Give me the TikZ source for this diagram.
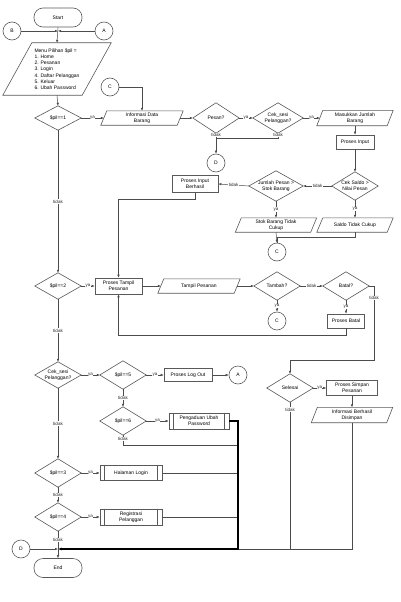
\documentclass[tikz,border=0pt]{standalone}
\usepackage{fontspec}
\setmainfont{Liberation Sans}
\usetikzlibrary{arrows.meta,calc}
\tikzset{
 ln/.style={draw=black!70, line width=0.5pt},
 arr/.style={ln, -{Latex[length=3pt,width=2.5pt]}},
 thk/.style={draw=black, line width=1.1pt, -{Latex[length=3.5pt,width=3pt]}},
 shp/.style={draw=black!65, line width=0.6pt},
 lbl/.style={fill=white, inner sep=0.4pt, font=\fontsize{4.5}{5}\selectfont, text=black!85},
 txt/.style={font=\fontsize{5}{6.2}\selectfont, align=center, inner sep=0},
 box/.style={txt, shp, rectangle},
 circ/.style={txt, shp, circle, minimum size=18pt},
 term/.style={txt, shp, rectangle, rounded corners=9pt},
}
\newcommand\FDia[6]{\node[txt, minimum width=#4pt, minimum height=#5pt] (#1) at (#2,#3) {#6};
 \draw[shp] (#1.north) -- (#1.east) -- (#1.south) -- (#1.west) -- cycle;}
\newcommand\FPara[7]{\node[txt, minimum width=#4pt, minimum height=#5pt] (#1) at (#2,#3) {#7};
 \draw[shp] ([xshift=#6pt]#1.north west) -- ([xshift=#6pt]#1.north east) -- ([xshift=-#6pt]#1.south east) -- ([xshift=-#6pt]#1.south west) -- cycle;}
\newcommand\FPre[6]{\node[box, minimum width=#4pt, minimum height=#5pt] (#1) at (#2,#3) {#6};
 \draw[shp] ([xshift=5pt]#1.north west) -- ([xshift=5pt]#1.south west) ([xshift=-5pt]#1.north east) -- ([xshift=-5pt]#1.south east);}
\begin{document}
\begin{tikzpicture}[x=1pt,y=-1pt]
\fill[white] (0,0) rectangle (400,602);
\useasboundingbox (0,0) rectangle (400,602);
% nodes
\node[term, minimum width=48pt, minimum height=19pt] (start) at (58,17.5) {Start};
\node[circ] (B) at (12,31) {B};
\node[circ] (A1) at (104,31) {A};
\coordinate (j1) at (58,31);
\node[txt, align=left, minimum width=79pt, minimum height=52pt] (menu) at (57,69) {Menu Pilihan \$pil =\\1. Home\\2. Pesanan\\3. Login\\4. Daftar Pelanggan\\5. Keluar\\6. Ubah Password};
\draw[shp] ([xshift=14.5pt]menu.north west) -- ([xshift=14.5pt]menu.north east) -- ([xshift=-14.5pt]menu.south east) -- ([xshift=-14.5pt]menu.south west) -- cycle;
\FDia{p1}{58}{118}{46}{24}{\$pil==1}
\node[circ] (C1) at (110,87) {C};
\FPara{info}{142}{118}{76}{14}{3}{Informasi Data\\Barang}
\FDia{pesan}{216}{118}{46}{30}{Pesan?}
\FDia{cek1}{278}{118}{50}{30}{Cek\_sesi\\Pelanggan?}
\FPara{masuk}{355}{118}{70}{15}{3}{Masukkan Jumlah\\Barang}
\node[box, minimum width=38pt, minimum height=14pt] (pinput) at (355,142) {Proses Input};
\FDia{saldo}{355}{186}{46}{28}{Cek Saldo >\\Nilai Pesan}
\FDia{jumlah}{276}{186}{54}{30}{Jumlah Pesan >\\Stok Barang}
\node[box, minimum width=46pt, minimum height=17pt] (berhasil) at (195,184) {Proses Input\\Berhasil};
\node[circ] (D1) at (216,163) {D};
\FPara{stok}{276}{225}{75}{14}{3}{Stok Barang Tidak\\Cukup}
\FPara{saldotc}{355}{225}{70}{14}{3}{Saldo Tidak Cukup}
\node[circ] (C2) at (277,252) {C};
\FDia{p2}{58}{286}{46}{26}{\$pil==2}
\node[box, minimum width=47pt, minimum height=16pt] (ptampil) at (118.5,286) {Proses Tampil\\Pesanan};
\FPara{tampilp}{199}{286}{76}{14}{3}{Tampil Pesanan}
\FDia{tambah}{277}{286}{46}{28}{Tambah?}
\FDia{batal}{346}{286}{46}{28}{Batal?}
\node[circ] (C3) at (277,321) {C};
\node[box, minimum width=37pt, minimum height=14pt] (pbatal) at (346,321) {Proses Batal};
\FDia{selesai}{290}{388}{46}{28}{Selesai}
\node[box, minimum width=51pt, minimum height=15pt] (simpan) at (352,388) {Proses Simpan\\Pesanan};
\FPara{infob}{352}{415}{75}{15}{3}{Informasi Berhasil\\Disimpan}
\FDia{cek2}{58}{375}{46}{26}{Cek\_sesi\\Pelanggan?}
\FDia{p5}{123}{375}{46}{28}{\$pil==5}
\node[box, minimum width=48pt, minimum height=13pt] (logout) at (188,375) {Proses Log Out};
\node[circ] (A2) at (238,375) {A};
\FDia{p6}{123}{421}{46}{28}{\$pil==6}
\FPre{pengaduan}{199}{421}{60}{16}{Pengaduan Ubah\\Password}
\FDia{p3}{58}{473}{46}{28}{\$pil==3}
\FPre{login}{131}{473}{62}{15}{Halaman Login}
\FDia{p4}{58}{517}{46}{28}{\$pil==4}
\FPre{reg}{131}{517}{62}{16}{Registrasi\\Pelanggan}
\node[circ] (D2) at (21,549) {D};
\coordinate (j2) at (58,549);
\coordinate (cr) at (238,549);
\node[term, minimum width=48pt, minimum height=19pt] (stop) at (58,568) {End};
% connectors
\draw[arr] (start.south) -- (menu.north);
\draw[arr] (B) -- (j1);
\draw[arr] (A1) -- (j1);
\draw[arr] (menu.south) -- (p1.north);
\draw[arr] (p1.east) -- node[lbl]{ya} (info.west);
\draw[arr] (C1.east) -| (info.north);
\draw[arr] (info.east) -- (pesan.west);
\draw[arr] (pesan.east) -- node[lbl]{ya} (cek1.west);
\draw[arr] (cek1.east) -- node[lbl]{ya} (masuk.west);
\draw[arr] (pesan.south) -- node[lbl, pos=0.1]{tidak} (D1.north);
\coordinate (jd) at (216,138);
\draw[ln] (cek1.south) |- node[lbl, pos=0.2]{tidak} (jd);
\draw[arr] (masuk.south) -- (pinput.north);
\draw[arr] (pinput.south) -- (saldo.north);
\draw[arr] (saldo.west) -- node[lbl]{tidak} (jumlah.east);
\draw[arr] (jumlah.west) -- node[lbl]{tidak} (berhasil.east);
\draw[arr] (jumlah.south) -- node[lbl]{ya} (stok.north);
\draw[arr] (saldo.south) -- node[lbl]{ya} (saldotc.north);
\draw[arr] (stok.south) -- (C2.north);
\draw[ln] (saldotc.south) -- ++(0,5) -| (C2.north);
\draw[arr] (berhasil.south) -- ++(0,6) -| (ptampil.north);
\draw[arr] (p1.south) -- node[lbl]{tidak} (p2.north);
\draw[arr] (p2.east) -- node[lbl]{ya} (ptampil.west);
\draw[arr] (ptampil.east) -- (tampilp.west);
\draw[arr] (tampilp.east) -- (tambah.west);
\draw[arr] (tambah.east) -- node[lbl]{tidak} (batal.west);
\draw[arr] (tambah.south) -- node[lbl]{ya} (C3.north);
\draw[arr] (batal.south) -- node[lbl]{ya} (pbatal.north);
\draw[arr] (pbatal.south) -- ++(0,7) -| (ptampil.south);
\draw[arr] (batal.east) -- ++(5,0) -- node[lbl, pos=0.16]{tidak} ++(0,74) -| (selesai.north);
\draw[arr] (selesai.east) -- node[lbl]{ya} (simpan.west);
\draw[arr] (simpan.south) -- (infob.north);
\draw[ln] (infob.south) |- (cr);
\draw[ln] (selesai.south) -- node[lbl, pos=0.05]{tidak} (selesai.south |- cr);
\draw[arr] (p2.south) -- node[lbl]{tidak} (cek2.north);
\draw[arr] (cek2.east) -- node[lbl]{ya} (p5.west);
\draw[arr] (p5.east) -- node[lbl]{ya} (logout.west);
\draw[arr] (logout.east) -- (A2.west);
\draw[arr] (p5.south) -- node[lbl]{tidak} (p6.north);
\draw[arr] (p6.east) -- node[lbl]{ya} (pengaduan.west);
\draw[ln] (p6.south) -- node[lbl, pos=0.4]{tidak} ++(0,10) -| (cr);
\draw[ln] (login.east) -- (login.east -| cr);
\draw[ln] (reg.east) -- (reg.east -| cr);
\draw[thk] (pengaduan.east) -| (cr) -- (j2);
\draw[arr] (cek2.south) -- node[lbl]{tidak} (p3.north);
\draw[arr] (p3.east) -- node[lbl]{ya} (login.west);
\draw[arr] (p3.south) -- node[lbl]{tidak} (p4.north);
\draw[arr] (p4.east) -- node[lbl]{ya} (reg.west);
\draw[ln] (p4.south) -- node[lbl]{tidak} (j2);
\draw[arr] (j2) -- (stop.north);
\draw[arr] (D2.east) -- (j2);
\end{tikzpicture}
\end{document}
